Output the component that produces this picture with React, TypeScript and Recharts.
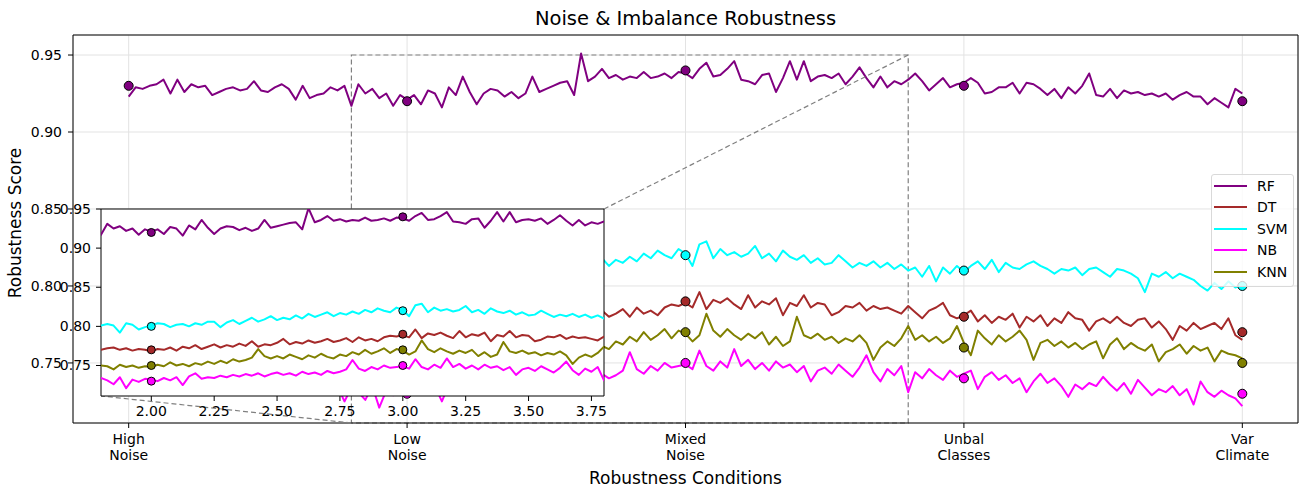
import { ComposedChart, Line, XAxis, YAxis, CartesianGrid, ReferenceArea, ReferenceLine } from 'recharts';

const FONT = '"DejaVu Sans", Verdana, sans-serif';

// categories on the main x axis (positions 1..5)
const CAT_POS = [1, 2, 3, 4, 5];
const CATEGORIES = ['High\nNoise', 'Low\nNoise', 'Mixed\nNoise', 'Unbal\nClasses', 'Var\nClimate'];

const Y_TICKS = [0.75, 0.8, 0.85, 0.9, 0.95];
const INSET_X_TICKS = [2, 2.25, 2.5, 2.75, 3, 3.25, 3.5, 3.75];

// noisy score traces, sampled every 0.025 from 1 to 5
const RF = [
  0.923, 0.929, 0.928, 0.930, 0.931, 0.934, 0.925, 0.934, 0.926, 0.931,
  0.929, 0.930, 0.924, 0.926, 0.928, 0.929, 0.927, 0.928, 0.933, 0.927,
  0.926, 0.929, 0.931, 0.928, 0.921, 0.930, 0.922, 0.924, 0.925, 0.929,
  0.927, 0.930, 0.917, 0.931, 0.925, 0.928, 0.922, 0.925, 0.917, 0.924,
  0.921, 0.924, 0.918, 0.927, 0.925, 0.916, 0.929, 0.924, 0.936, 0.926,
  0.918, 0.925, 0.928, 0.927, 0.923, 0.926, 0.922, 0.925, 0.936, 0.926,
  0.928, 0.930, 0.932, 0.933, 0.924, 0.951, 0.933, 0.936, 0.941, 0.935,
  0.937, 0.934, 0.936, 0.935, 0.939, 0.935, 0.936, 0.938, 0.935, 0.939,
  0.938, 0.935, 0.941, 0.945, 0.936, 0.937, 0.941, 0.946, 0.934, 0.933,
  0.931, 0.937, 0.938, 0.926, 0.935, 0.946, 0.934, 0.946, 0.933, 0.936,
  0.937, 0.935, 0.938, 0.931, 0.936, 0.942, 0.935, 0.929, 0.936, 0.929,
  0.933, 0.931, 0.934, 0.938, 0.933, 0.927, 0.931, 0.935, 0.929, 0.931,
  0.932, 0.935, 0.932, 0.925, 0.926, 0.929, 0.929, 0.932, 0.925, 0.932,
  0.931, 0.928, 0.924, 0.928, 0.922, 0.929, 0.925, 0.930, 0.938, 0.924,
  0.923, 0.928, 0.922, 0.927, 0.925, 0.926, 0.924, 0.925, 0.923, 0.925,
  0.921, 0.924, 0.926, 0.923, 0.923, 0.918, 0.922, 0.919, 0.916, 0.928,
  0.925,
];
const DT = [
  0.777, 0.781, 0.776, 0.779, 0.775, 0.780, 0.777, 0.774, 0.778, 0.775,
  0.779, 0.774, 0.777, 0.775, 0.778, 0.773, 0.776, 0.774, 0.777, 0.772,
  0.775, 0.773, 0.776, 0.771, 0.774, 0.772, 0.775, 0.771, 0.773, 0.770,
  0.771, 0.774, 0.770, 0.772, 0.773, 0.770, 0.772, 0.769, 0.771, 0.770,
  0.768, 0.771, 0.770, 0.773, 0.769, 0.774, 0.772, 0.776, 0.771, 0.774,
  0.777, 0.773, 0.776, 0.774, 0.778, 0.775, 0.781, 0.774, 0.777, 0.776,
  0.779, 0.784, 0.777, 0.780, 0.778, 0.782, 0.779, 0.781, 0.784, 0.780,
  0.782, 0.785, 0.780, 0.786, 0.782, 0.784, 0.781, 0.786, 0.788, 0.787,
  0.789, 0.786, 0.796, 0.785, 0.791, 0.789, 0.792, 0.788, 0.785, 0.794,
  0.786, 0.790, 0.788, 0.792, 0.781, 0.789, 0.787, 0.794, 0.786, 0.789,
  0.788, 0.781, 0.783, 0.787, 0.786, 0.789, 0.784, 0.787, 0.785, 0.786,
  0.784, 0.782, 0.787, 0.783, 0.779, 0.784, 0.786, 0.789, 0.781, 0.779,
  0.781, 0.784, 0.777, 0.781, 0.776, 0.780, 0.778, 0.782, 0.773, 0.780,
  0.777, 0.781, 0.774, 0.779, 0.776, 0.783, 0.779, 0.778, 0.771, 0.777,
  0.779, 0.776, 0.780, 0.776, 0.774, 0.778, 0.779, 0.773, 0.777, 0.772,
  0.765, 0.774, 0.771, 0.776, 0.772, 0.774, 0.776, 0.772, 0.779, 0.768,
  0.765,
];
const SVM = [
  0.806, 0.810, 0.805, 0.809, 0.804, 0.808, 0.806, 0.810, 0.805, 0.807,
  0.804, 0.808, 0.803, 0.807, 0.805, 0.802, 0.806, 0.804, 0.807, 0.803,
  0.805, 0.802, 0.806, 0.803, 0.801, 0.805, 0.802, 0.804, 0.800, 0.803,
  0.803, 0.804, 0.801, 0.803, 0.801, 0.792, 0.804, 0.802, 0.796, 0.799,
  0.801, 0.804, 0.803, 0.799, 0.802, 0.803, 0.800, 0.804, 0.802, 0.806,
  0.806, 0.799, 0.805, 0.808, 0.803, 0.807, 0.811, 0.806, 0.809, 0.813,
  0.808, 0.811, 0.809, 0.814, 0.810, 0.816, 0.812, 0.815, 0.818, 0.813,
  0.817, 0.815, 0.819, 0.816, 0.821, 0.818, 0.823, 0.820, 0.818, 0.824,
  0.821, 0.813, 0.827, 0.829, 0.818, 0.824, 0.820, 0.822, 0.819, 0.821,
  0.826, 0.818, 0.821, 0.816, 0.823, 0.819, 0.817, 0.820, 0.815, 0.818,
  0.814, 0.815, 0.820, 0.816, 0.812, 0.815, 0.813, 0.816, 0.812, 0.815,
  0.811, 0.814, 0.810, 0.812, 0.806, 0.813, 0.803, 0.812, 0.808, 0.813,
  0.809, 0.813, 0.816, 0.811, 0.817, 0.809, 0.815, 0.812, 0.811, 0.814,
  0.816, 0.813, 0.811, 0.808, 0.811, 0.810, 0.812, 0.807, 0.811, 0.812,
  0.809, 0.806, 0.811, 0.810, 0.808, 0.805, 0.796, 0.808, 0.806, 0.809,
  0.805, 0.808, 0.806, 0.804, 0.800, 0.797, 0.802, 0.798, 0.803, 0.799,
  0.801,
];
const NB = [
  0.737, 0.741, 0.738, 0.742, 0.736, 0.740, 0.738, 0.734, 0.739, 0.736,
  0.740, 0.735, 0.739, 0.734, 0.738, 0.741, 0.736, 0.739, 0.735, 0.740,
  0.736, 0.739, 0.734, 0.738, 0.733, 0.737, 0.735, 0.739, 0.734, 0.737,
  0.735, 0.725, 0.734, 0.731, 0.726, 0.735, 0.721, 0.732, 0.729, 0.733,
  0.732, 0.730, 0.734, 0.731, 0.735, 0.725, 0.736, 0.740, 0.733, 0.735,
  0.734, 0.737, 0.735, 0.738, 0.736, 0.739, 0.737, 0.740, 0.736, 0.739,
  0.741, 0.738, 0.740, 0.737, 0.742, 0.739, 0.741, 0.738, 0.743, 0.740,
  0.742, 0.745, 0.757, 0.746, 0.743, 0.748, 0.745, 0.750, 0.747, 0.748,
  0.749, 0.746, 0.758, 0.748, 0.745, 0.751, 0.747, 0.759, 0.748, 0.752,
  0.746, 0.750, 0.745, 0.751, 0.747, 0.749, 0.744, 0.748, 0.738, 0.745,
  0.747, 0.743, 0.749, 0.745, 0.741, 0.747, 0.755, 0.744, 0.738, 0.746,
  0.742, 0.748, 0.731, 0.744, 0.740, 0.746, 0.742, 0.739, 0.745, 0.741,
  0.743, 0.745, 0.733, 0.741, 0.744, 0.739, 0.742, 0.737, 0.740, 0.731,
  0.738, 0.743, 0.737, 0.740, 0.735, 0.728, 0.736, 0.733, 0.737, 0.735,
  0.741, 0.736, 0.732, 0.737, 0.730, 0.739, 0.734, 0.729, 0.733, 0.731,
  0.735, 0.729, 0.733, 0.723, 0.738, 0.731, 0.728, 0.732, 0.729, 0.727,
  0.722,
];
const KNN = [
  0.757, 0.761, 0.756, 0.759, 0.755, 0.758, 0.754, 0.757, 0.753, 0.756,
  0.754, 0.757, 0.752, 0.755, 0.751, 0.754, 0.752, 0.755, 0.750, 0.753,
  0.751, 0.749, 0.752, 0.748, 0.751, 0.747, 0.750, 0.748, 0.751, 0.747,
  0.748, 0.746, 0.750, 0.749, 0.745, 0.751, 0.748, 0.750, 0.747, 0.749,
  0.748, 0.751, 0.749, 0.754, 0.750, 0.752, 0.749, 0.753, 0.751, 0.755,
  0.752, 0.756, 0.753, 0.758, 0.755, 0.757, 0.760, 0.771, 0.762, 0.759,
  0.762, 0.759, 0.764, 0.761, 0.758, 0.763, 0.760, 0.765, 0.761, 0.759,
  0.764, 0.762, 0.767, 0.764, 0.770, 0.765, 0.768, 0.772, 0.766, 0.771,
  0.769, 0.764, 0.768, 0.782, 0.771, 0.767, 0.772, 0.768, 0.765, 0.769,
  0.766, 0.770, 0.762, 0.767, 0.761, 0.764, 0.780, 0.768, 0.766, 0.769,
  0.765, 0.767, 0.763, 0.766, 0.764, 0.768, 0.763, 0.752, 0.760, 0.764,
  0.761, 0.766, 0.774, 0.765, 0.768, 0.764, 0.767, 0.763, 0.766, 0.774,
  0.763, 0.755, 0.771, 0.766, 0.762, 0.768, 0.764, 0.767, 0.771, 0.765,
  0.752, 0.763, 0.765, 0.761, 0.764, 0.760, 0.763, 0.759, 0.762, 0.764,
  0.753, 0.762, 0.766, 0.759, 0.763, 0.760, 0.758, 0.762, 0.751, 0.757,
  0.759, 0.762, 0.756, 0.761, 0.758, 0.760, 0.751, 0.758, 0.756, 0.755,
  0.753,
];

// marker values at each condition
const RF_PTS = [0.93, 0.92, 0.94, 0.93, 0.92];
const DT_PTS = [0.78, 0.77, 0.79, 0.78, 0.77];
const SVM_PTS = [0.81, 0.8, 0.82, 0.81, 0.8];
const NB_PTS = [0.74, 0.73, 0.75, 0.74, 0.73];
const KNN_PTS = [0.76, 0.75, 0.77, 0.76, 0.75];

const SERIES = [
  { key: 'RF', color: '#800080', line: RF, pts: RF_PTS },
  { key: 'DT', color: '#a52a2a', line: DT, pts: DT_PTS },
  { key: 'SVM', color: '#00ffff', line: SVM, pts: SVM_PTS },
  { key: 'NB', color: '#ff00ff', line: NB, pts: NB_PTS },
  { key: 'KNN', color: '#808000', line: KNN, pts: KNN_PTS },
];

const STEP = 0.025;
const rows = RF.map((_, i) => {
  const r: Record<string, number> = { x: 1 + i * STEP };
  SERIES.forEach((s) => (r[s.key] = s.line[i]));
  return r;
});
const markerRows = CAT_POS.map((x, i) => {
  const r: Record<string, number> = { x };
  SERIES.forEach((s) => (r[s.key] = s.pts[i]));
  return r;
});

// layout
const W = 1301;
const H = 488;
const PLOT = { left: 73, right: 1298, top: 35, bottom: 423 };
const X_DOM: [number, number] = [0.8, 5.2];
const Y_DOM: [number, number] = [0.711, 0.963];
const ZOOM_X: [number, number] = [1.8, 3.8];
const ZOOM_Y: [number, number] = [0.711, 0.95];
const INSET = { left: 101, right: 604, top: 209, bottom: 396 };

const pxToX = (px: number) => X_DOM[0] + ((px - PLOT.left) / (PLOT.right - PLOT.left)) * (X_DOM[1] - X_DOM[0]);
const pxToY = (py: number) => Y_DOM[1] - ((py - PLOT.top) / (PLOT.bottom - PLOT.top)) * (Y_DOM[1] - Y_DOM[0]);

const fmt2 = (v: number) => v.toFixed(2);
const tickStyle = { fontSize: 14, fill: '#000', fontFamily: FONT };

function CatTick({ x, y, payload }: any) {
  const label = CATEGORIES[CAT_POS.indexOf(payload.value)] ?? '';
  return (
    <text x={x} y={y} textAnchor="middle" fill="#000" fontSize={14} fontFamily={FONT}>
      {label.split('\n').map((l, i) => (
        <tspan key={i} x={x} dy={i === 0 ? 15 : 16}>
          {l}
        </tspan>
      ))}
    </text>
  );
}

function Inset() {
  const left = 55;
  const top = 200;
  return (
    <div style={{ position: 'absolute', left, top }}>
      <ComposedChart
        width={INSET.right - left + 6}
        height={220}
        data={rows}
        margin={{ top: INSET.top - top, right: 6, left: 0, bottom: 0 }}
      >
        <CartesianGrid horizontal={false} vertical={false} fill="#ffffff" fillOpacity={1} />
        <XAxis
          type="number"
          dataKey="x"
          domain={ZOOM_X}
          allowDataOverflow
          ticks={INSET_X_TICKS}
          tickFormatter={fmt2}
          height={220 - (INSET.bottom - top)}
          tickSize={5}
          tickMargin={5}
          axisLine={false}
          tickLine={{ stroke: '#000' }}
          tick={tickStyle}
        />
        <YAxis
          type="number"
          domain={ZOOM_Y}
          allowDataOverflow
          ticks={Y_TICKS}
          tickFormatter={fmt2}
          width={INSET.left - left}
          tickSize={5}
          tickMargin={5}
          axisLine={false}
          tickLine={{ stroke: '#000' }}
          tick={tickStyle}
        />
        {SERIES.map((s) => (
          <Line
            key={s.key}
            dataKey={s.key}
            stroke={s.color}
            strokeWidth={2}
            strokeLinejoin="round"
            dot={false}
            isAnimationActive={false}
          />
        ))}
        {SERIES.map((s) => (
          <Line
            key={s.key + '-pts'}
            data={markerRows}
            dataKey={s.key}
            stroke="none"
            dot={{ r: 4, fill: s.color, stroke: '#000', strokeWidth: 1 }}
            isAnimationActive={false}
          />
        ))}
        <ReferenceArea x1={ZOOM_X[0]} x2={ZOOM_X[1]} y1={ZOOM_Y[0]} y2={ZOOM_Y[1]} fill="none" stroke="#000" strokeWidth={1} ifOverflow="visible" />
      </ComposedChart>
    </div>
  );
}

export default function App() {
  const dash = { stroke: '#808080', strokeWidth: 1.2, strokeDasharray: '5 3' };
  return (
    <div style={{ position: 'absolute', left: 0, top: 0, width: W, height: H, background: '#fff', fontFamily: FONT, color: '#000' }}>
      <div style={{ position: 'absolute', left: PLOT.left, width: PLOT.right - PLOT.left, top: 7, textAlign: 'center', fontSize: 19.5, lineHeight: '24px' }}>
        Noise &amp; Imbalance Robustness
      </div>
      <ComposedChart width={W} height={H} data={rows} margin={{ top: PLOT.top, right: W - PLOT.right, left: 0, bottom: 0 }}>
        <CartesianGrid stroke="#e3e3e3" strokeWidth={1} />
        <XAxis
          type="number"
          dataKey="x"
          domain={X_DOM}
          allowDataOverflow
          ticks={CAT_POS}
          interval={0}
          height={H - PLOT.bottom}
          tickSize={5}
          tickMargin={1}
          axisLine={false}
          tickLine={{ stroke: '#000' }}
          tick={<CatTick />}
        />
        <YAxis
          type="number"
          domain={Y_DOM}
          allowDataOverflow
          ticks={Y_TICKS}
          tickFormatter={fmt2}
          width={PLOT.left}
          tickSize={5}
          tickMargin={6}
          axisLine={false}
          tickLine={{ stroke: '#000' }}
          tick={tickStyle}
        />
        {SERIES.map((s) => (
          <Line
            key={s.key}
            dataKey={s.key}
            stroke={s.color}
            strokeWidth={2}
            strokeLinejoin="round"
            dot={false}
            isAnimationActive={false}
          />
        ))}
        {SERIES.map((s) => (
          <Line
            key={s.key + '-pts'}
            data={markerRows}
            dataKey={s.key}
            stroke="none"
            dot={{ r: 4.5, fill: s.color, stroke: '#000', strokeWidth: 1 }}
            isAnimationActive={false}
          />
        ))}
        <ReferenceArea x1={ZOOM_X[0]} x2={ZOOM_X[1]} y1={ZOOM_Y[0]} y2={ZOOM_Y[1]} fill="none" {...dash} ifOverflow="visible" />
        <ReferenceLine
          segment={[
            { x: ZOOM_X[1], y: ZOOM_Y[1] },
            { x: pxToX(INSET.right), y: pxToY(INSET.top) },
          ]}
          {...dash}
          ifOverflow="visible"
        />
        <ReferenceLine
          segment={[
            { x: ZOOM_X[0], y: ZOOM_Y[0] },
            { x: pxToX(INSET.left), y: pxToY(INSET.bottom) },
          ]}
          {...dash}
          ifOverflow="visible"
        />
        <ReferenceArea x1={X_DOM[0]} x2={X_DOM[1]} y1={Y_DOM[0]} y2={Y_DOM[1]} fill="none" stroke="#000" strokeWidth={1} ifOverflow="visible" />
      </ComposedChart>
      <div style={{ position: 'absolute', left: PLOT.left, width: PLOT.right - PLOT.left, top: 468, textAlign: 'center', fontSize: 17, lineHeight: '21px' }}>
        Robustness Conditions
      </div>
      <div
        style={{
          position: 'absolute',
          left: 15,
          top: 223,
          transform: 'translate(-50%, -50%) rotate(-90deg)',
          whiteSpace: 'nowrap',
          fontSize: 17,
          lineHeight: '21px',
        }}
      >
        Robustness Score
      </div>
      <Inset />
      <div
        style={{
          position: 'absolute',
          left: 1211,
          top: 174,
          width: 81,
          padding: '0 0 3px 0',
          border: '1px solid #d9d9d9',
          borderRadius: 3,
          background: 'rgba(255,255,255,0.8)',
          fontSize: 14,
        }}
      >
        {SERIES.map((s) => (
          <div key={s.key} style={{ display: 'flex', alignItems: 'center', height: 21.5 }}>
            <span style={{ display: 'inline-block', width: 33, height: 2, marginLeft: 2, marginRight: 10, background: s.color }} />
            {s.key}
          </div>
        ))}
      </div>
    </div>
  );
}
